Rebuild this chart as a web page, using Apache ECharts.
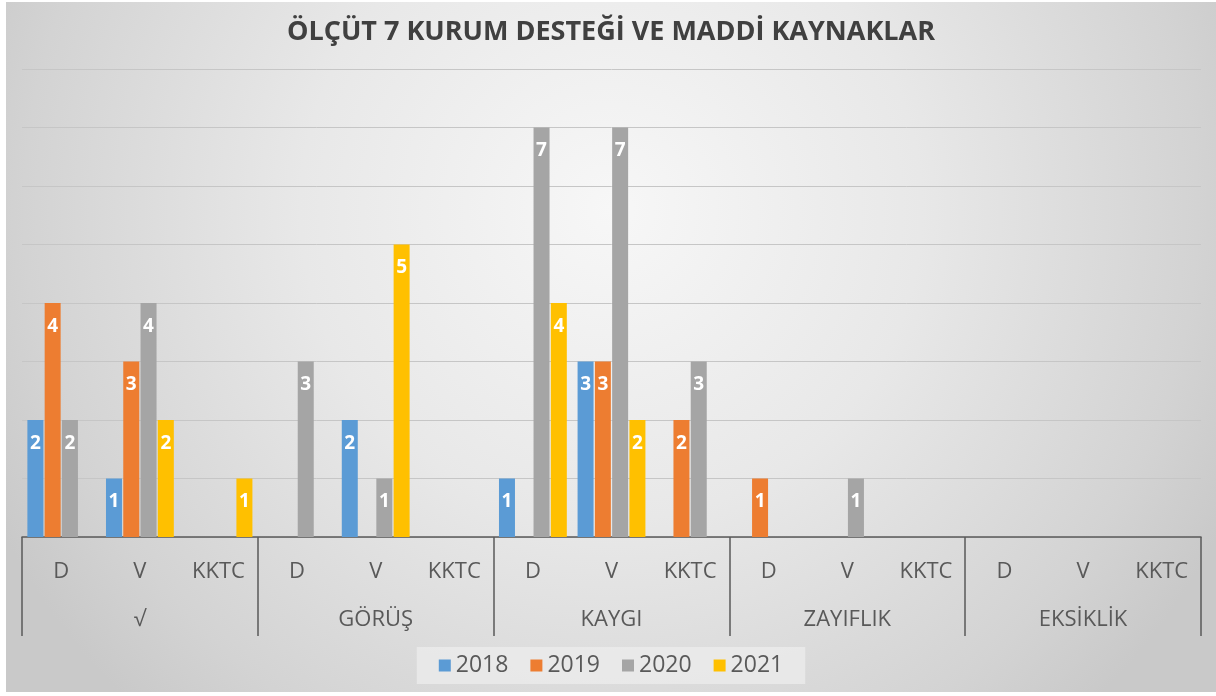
<!DOCTYPE html>
<html>
<head>
<meta charset="utf-8">
<script src="https://cdn.jsdelivr.net/npm/echarts@6/dist/echarts.min.js"></script>
<style>
  html, body { margin: 0; padding: 0; background: #fff; }
  #chart { position: absolute; left: 6px; top: 2px; width: 1210px; height: 690px; }
</style>
</head>
<body>
<div id="chart"></div>
<script>
// alt kategoriler (D, V, KKTC) ve ana gruplar
const subCats = ['D', 'V', 'KKTC', 'D', 'V', 'KKTC', 'D', 'V', 'KKTC', 'D', 'V', 'KKTC', 'D', 'V', 'KKTC'];
const groups = ['√', 'GÖRÜŞ', 'KAYGI', 'ZAYIFLIK', 'EKSİKLİK'];
const years = ['2018', '2019', '2020', '2021'];

// değerler: √ D,V,KKTC | GÖRÜŞ | KAYGI | ZAYIFLIK | EKSİKLİK
const v2018 = [2, 1, 0, 0, 2, 0, 1, 3, 0, 0, 0, 0, 0, 0, 0];
const v2019 = [4, 3, 0, 0, 0, 0, 0, 3, 2, 1, 0, 0, 0, 0, 0];
const v2020 = [2, 4, 0, 3, 1, 0, 7, 7, 3, 0, 1, 0, 0, 0, 0];
const v2021 = [0, 2, 1, 0, 5, 0, 4, 2, 0, 0, 0, 0, 0, 0, 0];

const colors = ['#5B9BD5', '#ED7D31', '#A5A5A5', '#FFC000'];
const font = '"Open Sans", "Noto Sans", sans-serif';

const chart = echarts.init(document.getElementById('chart'));

const makeSeries = (name, data) => ({
  name: name,
  type: 'bar',
  data: data,
  barWidth: 16,
  barGap: '8%',
  label: {
    show: true,
    position: 'insideTop',
    distance: 14,
    color: '#fff',
    fontWeight: 'bold',
    fontSize: 19,
    fontFamily: font,
    formatter: p => (p.value ? p.value : '')
  }
});

chart.setOption({
  backgroundColor: {
    type: 'radial', x: 0.5, y: 0.3, r: 1.0,
    colorStops: [
      { offset: 0, color: '#f7f7f7' },
      { offset: 0.45, color: '#e8e8e8' },
      { offset: 0.85, color: '#d3d3d3' },
      { offset: 1, color: '#c9c9c9' }
    ]
  },
  color: colors,
  title: {
    text: 'ÖLÇÜT 7 KURUM DESTEĞİ VE MADDİ KAYNAKLAR',
    left: 'center',
    top: 17,
    padding: 0,
    textStyle: { fontFamily: font, fontWeight: 'bold', fontSize: 27, color: '#404040' }
  },
  legend: {
    bottom: 8,
    left: 'center',
    icon: 'rect',
    itemWidth: 12,
    itemHeight: 12,
    itemGap: 22,
    padding: [7, 22],
    backgroundColor: 'rgba(238,238,238,0.7)',
    textStyle: { fontFamily: font, fontSize: 23, color: '#595959' },
    data: years
  },
  grid: { left: 16, right: 15, top: 67, bottom: 155 },
  xAxis: [
    {
      type: 'category',
      data: subCats,
      axisLine: { lineStyle: { color: '#595959', width: 1.5 } },
      axisTick: { show: false },
      axisLabel: { margin: 24, fontFamily: font, fontSize: 22, color: '#595959' }
    },
    {
      type: 'category',
      data: groups,
      position: 'bottom',
      axisLine: { show: false },
      axisTick: { show: true, length: 99, lineStyle: { color: '#595959', width: 1.5 } },
      axisLabel: { margin: 72, fontFamily: font, fontSize: 22, color: '#595959' }
    }
  ],
  yAxis: {
    type: 'value',
    min: 0,
    max: 8,
    interval: 1,
    axisLabel: { show: false },
    axisLine: { show: false },
    axisTick: { show: false },
    splitLine: { lineStyle: { color: '#c6c6c6', width: 1 } }
  },
  series: [
    makeSeries('2018', v2018),
    makeSeries('2019', v2019),
    makeSeries('2020', v2020),
    makeSeries('2021', v2021)
  ]
});
</script>
</body>
</html>
